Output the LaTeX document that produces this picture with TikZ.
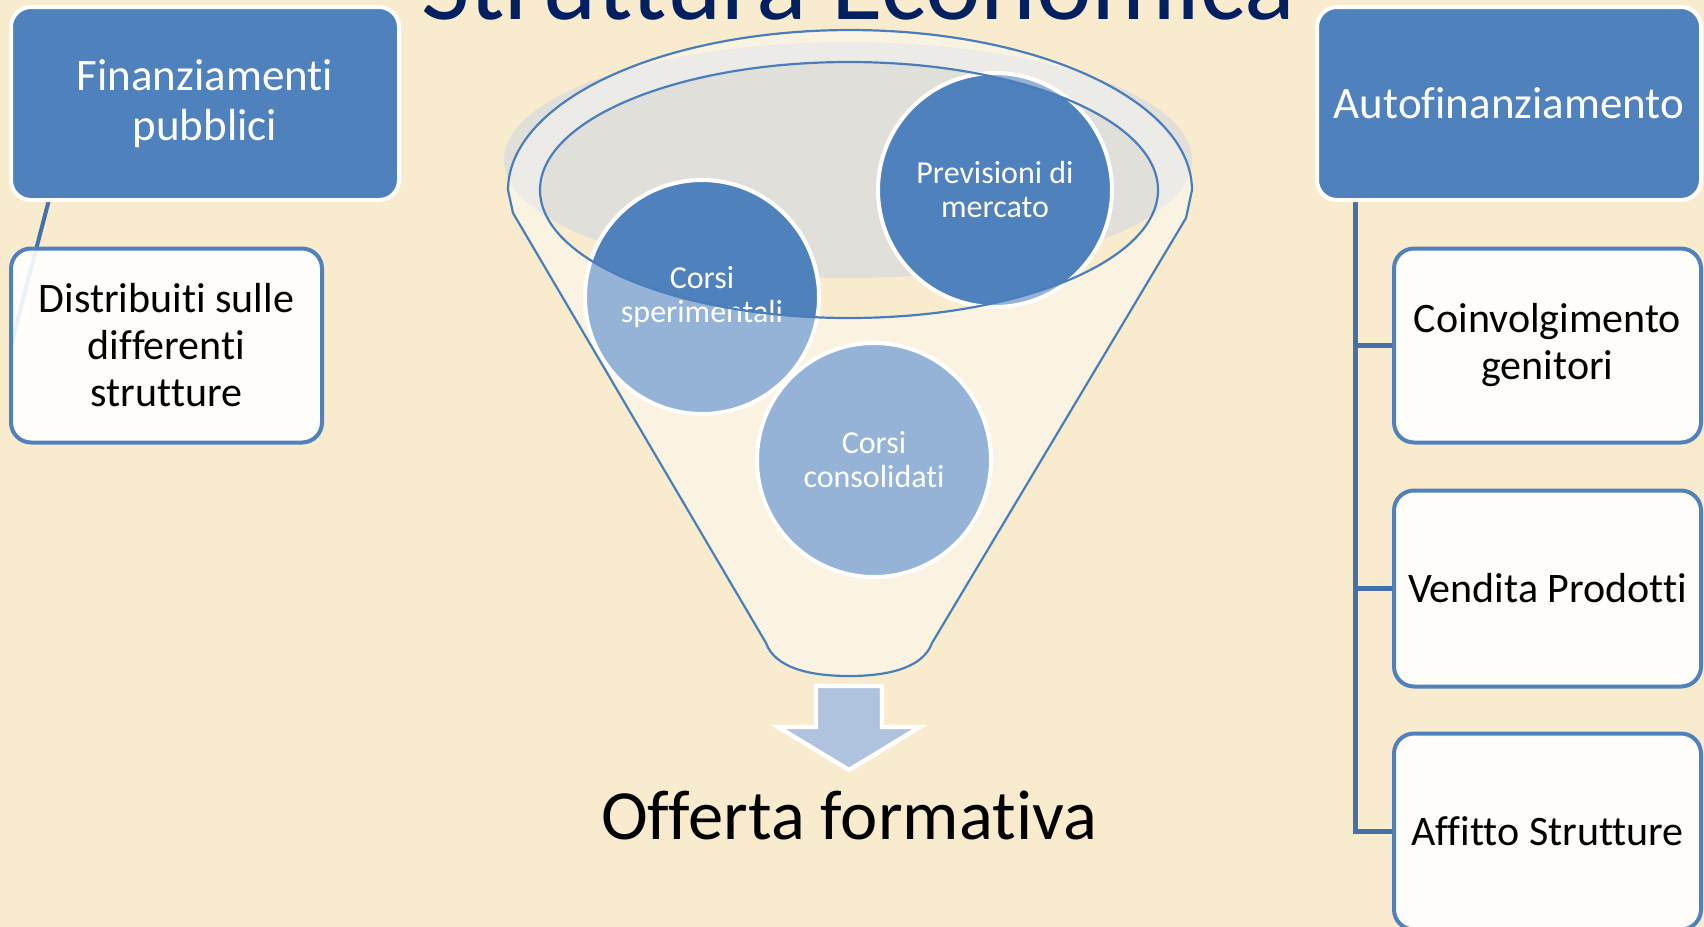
\documentclass[tikz,border=0pt]{standalone}
\usepackage{fontspec}
\setmainfont{Carlito}[Ligatures=NoCommon]
\definecolor{bg}{HTML}{F9EBCD}
\definecolor{accent}{HTML}{4F81BD}
\definecolor{connc}{HTML}{4671A8}
\definecolor{titlec}{HTML}{002060}
\definecolor{greyd}{HTML}{E0DFDA}
\definecolor{arrowc}{HTML}{AFC3DE}
\definecolor{funnelc}{HTML}{4A7EBB}
\def\funnelpath{(513,213) -- (766,643) .. controls (775,668) and (810,676) .. (849,676) .. controls (888,676) and (923,668) .. (932,643) -- (1186,218) -- (1192,190) -- plot[domain=0:180,samples=90] ({850+342*cos(\x)},{190-160*sin(\x)}) -- cycle}
\begin{document}
\begin{tikzpicture}[x=0.5pt,y=-0.5pt,
  parentbox/.style={draw=white, line width=2pt, fill=accent, rounded corners=10pt, text=white, align=center, font=\fontsize{22.5}{25}\selectfont, inner sep=0pt, minimum height=96.5pt},
  childbox/.style={draw=accent, line width=2pt, fill=white, fill opacity=0.9, text opacity=1, rounded corners=10pt, align=center, font=\fontsize{21}{23.5}\selectfont, inner sep=0pt, minimum height=97pt},
  bubble/.style={circle, draw=white, line width=2pt, fill=accent, text=white, align=center, font=\fontsize{16}{17}\selectfont, minimum size=117pt, inner sep=0pt},
  connline/.style={draw=connc, line width=2.5pt},
  funnelline/.style={draw=funnelc, line width=1.1pt, line join=round},
]
\useasboundingbox (0,0) rectangle (1704,927);
\clip (0,0) rectangle (1704,927);
\fill[bg] (0,0) rectangle (1704,927);

% title (cut off at the top, as in the original slide)
\node[anchor=base, text=titlec, font=\fontsize{52.8}{60}\selectfont, inner sep=0pt] (title) at (858,19) {Struttura Economica};

% connector start points under the parent boxes
\coordinate (lt) at (50,196);
\coordinate (rt) at (1355,196);
\coordinate (lend) at (11,345.5);

% left hierarchy
\draw[connline, line width=2pt] (lt) -- (lend);
\node[childbox, minimum width=155.5pt] (lc) at (166.5,345.5) {Distribuiti sulle\\differenti\\strutture};
\node[parentbox, minimum width=194pt] (lp) at (205,103.5) {Finanziamenti\\pubblici};

% right hierarchy
\node[childbox, minimum width=153.5pt] (c1) at (1547.5,345.5) {Coinvolgimento\\genitori};
\node[childbox, minimum width=153.5pt, minimum height=98pt] (c2) at (1547.5,588.5) {Vendita Prodotti};
\node[childbox, minimum width=153.5pt, minimum height=98pt] (c3) at (1547.5,831.5) {Affitto Strutture};
\draw[connline] (rt) |- (c1.west);
\draw[connline] (rt) |- (c2.west);
\draw[connline] (rt) |- (c3.west);
\node[parentbox, minimum width=192pt] (rp) at (1509,103.5) {Autofinanziamento};

% funnel back
\fill[greyd] (848,160) ellipse [x radius=344, y radius=118];

% bubbles
\node[bubble] (pm) at (995,190) {Previsioni di\\mercato};
\node[bubble] (cs) at (702,297) {Corsi\\sperimentali};
\node[bubble] (cc) at (874,460) {Corsi\\consolidati};

% funnel front (translucent body) and outlines
\fill[white, fill opacity=0.4, even odd rule] \funnelpath (849,190) ellipse [x radius=309, y radius=128];
\draw[funnelline] \funnelpath;
\draw[funnelline] (849,190) ellipse [x radius=309, y radius=128];

% arrow and result
\draw[draw=white, line width=2.2pt, fill=arrowc, line join=miter] (816,686) -- (882,686) -- (882,727) -- (920,727) -- (849,770) -- (778,727) -- (816,727) -- cycle;
\node[anchor=base, font=\fontsize{35.3}{40}\selectfont, inner sep=0pt] (off) at (849,839) {Offerta formativa};
\end{tikzpicture}
\end{document}
